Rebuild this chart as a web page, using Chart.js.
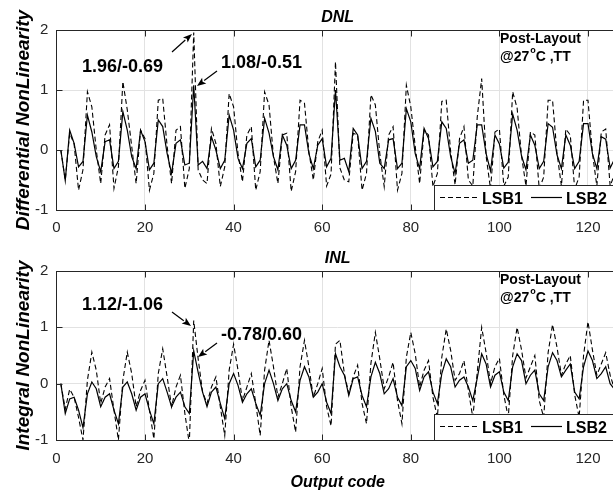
<!DOCTYPE html>
<html><head><meta charset="utf-8">
<script src="https://cdn.jsdelivr.net/npm/chart.js@4.4.0/dist/chart.umd.min.js"></script>
<style>
html,body{margin:0;padding:0;overflow:hidden;background:#fff;width:613px;height:498px;}
#wrap{position:relative;width:625px;height:498px;}
canvas{position:absolute;left:0;}
</style></head><body>
<div id="wrap">
<canvas id="c1" width="625" height="249" style="top:0;width:625px;height:249px"></canvas>
<canvas id="c2" width="625" height="249" style="top:249px;width:625px;height:249px"></canvas>
</div>
<script>
// ---- data (output codes 1..126) ----
const dnlLSB1 = [0,-0.5,0.28,0.1,-0.67,-0.33,0.97,0.72,0,-0.56,
0.25,0.42,-0.64,-0.28,1.14,0.67,0.06,-0.56,0.33,0.19,
-0.67,-0.39,0.83,0.86,0.06,-0.56,0.33,0.39,-0.64,-0.31,
1.96,-0.33,-0.5,-0.56,0.36,0.11,-0.61,-0.28,0.94,0.72,
-0.06,-0.53,0.25,0.39,-0.67,-0.36,0.97,0.75,-0.11,-0.56,
0.25,0.28,-0.69,-0.36,0.83,0.78,-0.03,-0.5,0.14,0.33,
-0.6,-0.4,1.47,-0.3,-0.5,-0.53,0.28,0.25,-0.67,-0.39,
0.92,0.75,-0.06,-0.61,0.25,0.39,-0.67,-0.39,1.08,0.72,
0.06,-0.56,0.33,0.25,-0.61,-0.39,0.81,0.83,-0.03,-0.58,
0.19,0.39,-0.5,-0.6,0.55,1.19,-0.1,-0.65,0.3,0.35,
-0.6,-0.45,0.97,0.7,-0.1,-0.6,0.3,0.25,-0.65,-0.45,
0.83,0.83,-0.05,-0.6,0.35,0.25,-0.65,-0.45,0.83,0.83,
-0.05,-0.6,0.3,0.35,-0.6,-0.4];
const dnlLSB2 = [0,-0.51,0.33,0.11,-0.28,-0.19,0.58,0.3,-0.11,-0.36,
0.14,0.17,-0.31,-0.19,0.64,0.33,-0.11,-0.31,0.33,0.14,
-0.33,-0.22,0.5,0.39,-0.06,-0.39,0.11,0.17,-0.25,-0.22,
1.08,-0.25,-0.19,-0.31,0.22,0,-0.31,-0.17,0.58,0.33,
-0.14,-0.31,0.11,0.19,-0.28,-0.17,0.53,0.28,-0.11,-0.33,
0.25,0.08,-0.31,-0.17,0.42,0.42,-0.06,-0.31,0.08,0.19,
-0.28,-0.14,1.0,-0.17,-0.14,-0.36,0.36,0.25,-0.31,-0.19,
0.53,0.31,-0.22,-0.31,0.17,0.19,-0.31,-0.22,0.69,0.47,
-0.06,-0.31,0.36,0.19,-0.28,-0.19,0.47,0.36,-0.11,-0.39,
0.11,0.17,-0.22,-0.17,0.42,0.42,-0.06,-0.35,0.25,0.1,
-0.3,-0.2,0.6,0.33,-0.1,-0.33,0.25,0.08,-0.31,-0.19,
0.44,0.38,-0.08,-0.31,0.25,0.08,-0.31,-0.19,0.44,0.44,
-0.06,-0.31,0.22,0.18,-0.3,-0.15];
const inlLSB1 = [0,-0.45,-0.1,-0.24,-0.6,-1.0,0.06,0.56,0.24,-0.35,
-0.06,0.09,-0.47,-1.0,0.06,0.56,0.18,-0.41,-0.12,0.06,
-0.47,-0.98,0.18,0.62,0.12,-0.41,-0.06,0.15,-0.53,-1.06,
1.12,0.44,-0.15,-0.35,-0.06,0.12,-0.41,-0.92,0.24,0.7,
0.24,-0.3,-0.06,0.18,-0.35,-0.92,0.24,0.77,0.3,-0.24,
0,0.27,-0.41,-0.86,0.3,0.77,0.3,-0.24,0,0.27,
-0.41,-0.75,0.7,0.77,0.18,-0.18,0.12,0.33,-0.35,-0.71,
0.36,0.91,0.44,-0.09,0.12,0.38,-0.3,-0.71,0.47,0.91,
0.53,-0.06,0.24,0.41,-0.24,-0.6,0.47,0.97,0.59,0.06,
0.18,0.41,-0.12,-0.6,0.2,1.0,0.55,0.0,0.3,0.45,
-0.2,-0.6,0.5,1.0,0.6,0.1,0.3,0.5,-0.3,-0.6,
0.55,1.05,0.65,0.15,0.35,0.5,-0.2,-0.6,0.5,1.1,
0.6,0.15,0.35,0.55,0.15,-0.1];
const inlLSB2 = [0,-0.53,-0.27,-0.24,-0.47,-0.78,-0.18,0.03,-0.09,-0.41,
-0.24,-0.18,-0.47,-0.71,-0.06,0.03,-0.18,-0.47,-0.24,-0.18,
-0.47,-0.71,0,0.09,-0.15,-0.41,-0.24,-0.15,-0.41,-0.53,
0.58,0.2,-0.15,-0.41,-0.15,-0.06,-0.35,-0.62,0,0.18,
-0.03,-0.33,-0.18,-0.09,-0.35,-0.56,0,0.24,0,-0.3,
-0.09,0,-0.3,-0.5,0.06,0.3,0.12,-0.24,-0.15,0,
-0.33,-0.53,0.53,0.3,0.15,-0.21,0.09,0.12,-0.21,-0.41,
0.12,0.38,0.18,-0.18,-0.09,0.09,-0.24,-0.39,0.3,0.41,
0.27,-0.12,0.12,0.21,-0.15,-0.35,0.18,0.44,0.3,-0.06,
0.06,0.12,-0.06,-0.3,0.1,0.53,0.35,-0.06,0.15,0.21,
-0.15,-0.3,0.3,0.53,0.41,0,0.15,0.24,-0.18,-0.3,
0.3,0.55,0.41,0.12,0.24,0.35,-0.15,-0.27,0.3,0.58,
0.41,0.09,0.18,0.3,0,-0.1];
const codes = dnlLSB1.map((_, i) => i + 1);
const xTickValues = [0,20,40,60,80,100,120];
const yTickValues = [-1,0,1,2];
const seriesNames = ['LSB1','LSB2'];
const dnlNotes = ['1.96/-0.69','1.08/-0.51'];
const inlNotes = ['1.12/-1.06','-0.78/0.60'];

const FONT = '"Liberation Sans", Arial, sans-serif';
const INK = '#262626';

function pts(arr){ return codes.map((c,i)=>({x:c, y:arr[i]})); }

function decor(cfg){
  return {
    id:'decor_'+cfg.title,
    afterDatasetsDraw(chart){
      const {ctx, chartArea:a, scales:{x,y}} = chart;
      ctx.save();
      ctx.strokeStyle = INK; ctx.lineWidth = 1;
      const L = Math.round(a.left)+0.5, T = Math.round(a.top)+0.5, B = Math.round(a.bottom)+0.5, R = Math.round(a.right)+0.5;
      ctx.beginPath();
      xTickValues.forEach(v=>{ const px=Math.round(x.getPixelForValue(v))+0.5; ctx.moveTo(px,B); ctx.lineTo(px,B-6); ctx.moveTo(px,T); ctx.lineTo(px,T+6); });
      yTickValues.forEach(v=>{ const py=Math.round(y.getPixelForValue(v))+0.5; ctx.moveTo(L,py); ctx.lineTo(L+6,py); });
      ctx.stroke();
      ctx.strokeRect(L, T, R-L, B-T);
      // title
      ctx.fillStyle = '#000';
      ctx.font = 'bold italic 16px '+FONT;
      ctx.textAlign = 'center'; ctx.textBaseline = 'alphabetic';
      ctx.fillText(cfg.title, (a.left+a.right)/2, cfg.titleY);
      // annotations
      ctx.font = 'bold 18px '+FONT; ctx.textAlign='left';
      cfg.notes.forEach(n=>{
        ctx.fillText(n.text, n.tx, n.ty);
        arrow(ctx, n.ax0, n.ay0, n.ax1, n.ay1);
      });
      // post-layout text
      ctx.font = 'bold 14px '+FONT;
      ctx.fillText('Post-Layout', 500, cfg.plY);
      let xx = 500;
      ctx.fillText('@27', xx, cfg.plY+18); xx += ctx.measureText('@27').width + 1;
      ctx.font = 'bold 9px '+FONT; ctx.fillText('o', xx, cfg.plY+10);
      xx += ctx.measureText('o').width;
      ctx.font = 'bold 14px '+FONT; ctx.fillText('C ,TT', xx, cfg.plY+18);
      // legend
      const lt = cfg.legTop;
      ctx.fillStyle='#fff'; ctx.fillRect(434.5, lt+0.5, 200, cfg.legH);
      ctx.strokeStyle=INK; ctx.lineWidth=1; ctx.strokeRect(434.5, lt+0.5, 200, cfg.legH);
      ctx.strokeStyle='#000'; ctx.lineWidth=1.2;
      ctx.setLineDash([5,3]); ctx.beginPath(); ctx.moveTo(440, lt+12.5); ctx.lineTo(478, lt+12.5); ctx.stroke();
      ctx.setLineDash([]); ctx.beginPath(); ctx.moveTo(531, lt+12.5); ctx.lineTo(562, lt+12.5); ctx.stroke();
      ctx.fillStyle='#000'; ctx.font='bold 16px '+FONT; ctx.textAlign='left';
      ctx.fillText(chart.data.datasets[0].label, 482, lt+19);
      ctx.fillText(chart.data.datasets[1].label, 566, lt+19);
      ctx.restore();
    }
  };
}
function arrow(ctx,x0,y0,x1,y1){
  ctx.save();
  ctx.strokeStyle='#000'; ctx.fillStyle='#000'; ctx.lineWidth=1.2;
  const ang=Math.atan2(y1-y0,x1-x0), hl=9, hw=3.5;
  const bx=x1-hl*Math.cos(ang), by=y1-hl*Math.sin(ang);
  ctx.beginPath(); ctx.moveTo(x0,y0); ctx.lineTo(bx,by); ctx.stroke();
  ctx.beginPath(); ctx.moveTo(x1,y1);
  ctx.lineTo(bx+hw*Math.sin(ang), by-hw*Math.cos(ang));
  ctx.lineTo(bx+2*Math.cos(ang), by+2*Math.sin(ang));
  ctx.lineTo(bx-hw*Math.sin(ang), by+hw*Math.cos(ang));
  ctx.closePath(); ctx.fill();
  ctx.restore();
}

function makeChart(id, d1, d2, opt){
  return new Chart(document.getElementById(id), {
    type:'line',
    data:{datasets:[
      {label:seriesNames[0], data:pts(d1), borderColor:'#000', borderWidth:1.1, borderDash:[5,3], pointRadius:0, tension:0, fill:false},
      {label:seriesNames[1], data:pts(d2), borderColor:'#000', borderWidth:1.2, pointRadius:0, tension:0, fill:false}
    ]},
    options:{
      responsive:false, animation:false, devicePixelRatio:1,
      layout:{padding:{top:opt.padTop, right:6, left:0, bottom:0}},
      plugins:{legend:{display:false}, tooltip:{enabled:false}, title:{display:false}},
      scales:{
        x:{type:'linear', min:0, max:127,
          afterBuildTicks:s=>{ s.ticks = xTickValues.map(v=>({value:v})); },
          afterFit:s=>{ s.height = opt.xH; },
          grid:{color:'#e2e2e2', drawTicks:false, lineWidth:1},
          border:{display:false},
          ticks:{font:{family:FONT, size:15}, color:INK, padding:opt.xPad, maxRotation:0},
          title:{display:!!opt.xTitle, text:opt.xTitle||'', font:{family:FONT, size:16, weight:'bold', style:'italic'}, color:'#000', padding:{top:0,bottom:6}}
        },
        y:{type:'linear', min:-1, max:2,
          afterBuildTicks:s=>{ s.ticks = yTickValues.map(v=>({value:v})); },
          afterFit:s=>{ s.width = 56.4; },
          grid:{color:'#e2e2e2', drawTicks:false, lineWidth:1},
          border:{display:false},
          ticks:{font:{family:FONT, size:15}, color:INK, padding:8},
          title:{display:true, text:opt.yTitle, font:{family:FONT, size:19, weight:'bold', style:'italic'}, color:'#000', padding:{top:12, bottom:0}}
        }
      }
    },
    plugins:[decor(opt.decor)]
  });
}

makeChart('c1', dnlLSB1, dnlLSB2, {
  padTop:30, xH:39, xPad:9, yTitle:'Differential NonLinearity',
  decor:{title:'DNL', titleY:22, plY:43, legTop:185, legH:25,
    notes:[{text:dnlNotes[0], tx:82, ty:72, ax0:172, ay0:52, ax1:192, ay1:34},
           {text:dnlNotes[1], tx:221, ty:68, ax0:217, ay0:71, ax1:197, ay1:86}]}
});
makeChart('c2', inlLSB1, inlLSB2, {
  padTop:22, xH:58, xPad:10, yTitle:'Integral NonLinearity', xTitle:'Output code',
  decor:{title:'INL', titleY:14, plY:35, legTop:165, legH:26,
    notes:[{text:inlNotes[0], tx:82, ty:61, ax0:172, ay0:63, ax1:191, ay1:77},
           {text:inlNotes[1], tx:221, ty:91, ax0:217, ay0:94, ax1:198, ay1:108}]}
});
</script>
</body></html>
